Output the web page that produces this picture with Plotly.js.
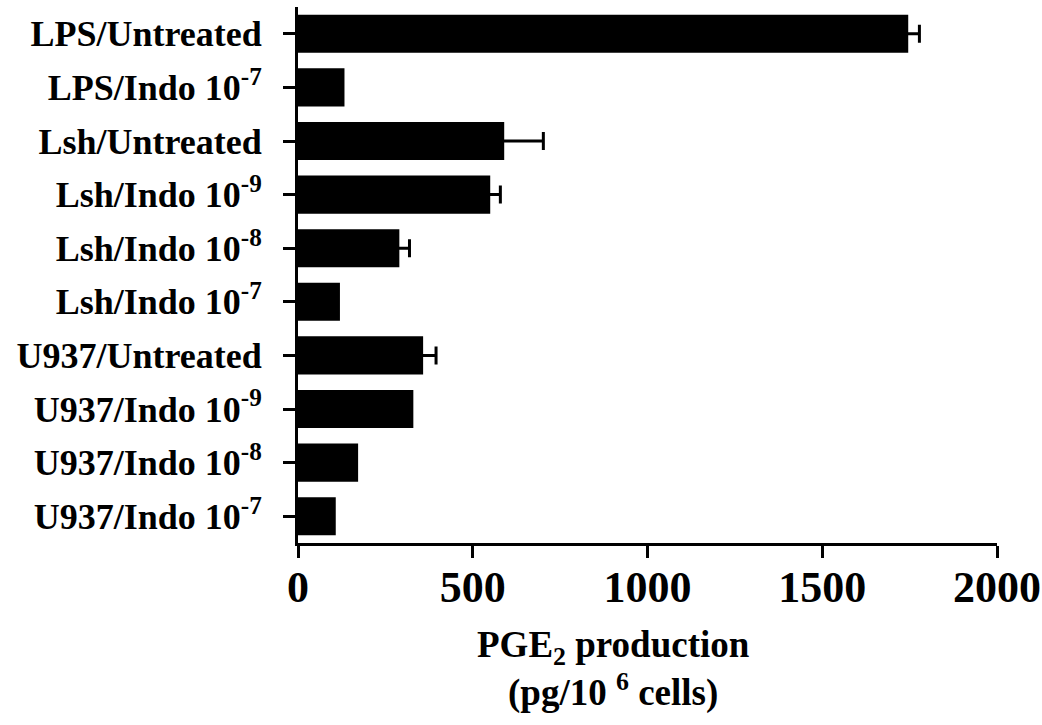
<!DOCTYPE html>
<html>
<head>
<meta charset="utf-8">
<script src="https://cdn.plot.ly/plotly-3.0.1.min.js"></script>
<style>
  html, body { margin: 0; padding: 0; background: #fff; }
  #chart { width: 1042px; height: 725px; }
</style>
</head>
<body>
<div id="chart"></div>
<script>
// Treatment groups, top to bottom
const groups = [
  'LPS/Untreated',
  'LPS/Indo 10<sup>-7</sup>',
  'Lsh/Untreated',
  'Lsh/Indo 10<sup>-9</sup>',
  'Lsh/Indo 10<sup>-8</sup>',
  'Lsh/Indo 10<sup>-7</sup>',
  'U937/Untreated',
  'U937/Indo 10<sup>-9</sup>',
  'U937/Indo 10<sup>-8</sup>',
  'U937/Indo 10<sup>-7</sup>'
];

// PGE2 production (pg/10^6 cells)
const pge2 = [1746, 133, 590, 550, 290, 120, 358, 330, 172, 108];

// Error (SD); null where no error bar is drawn
const pge2Err = [32, null, 112, 29, 29, null, 37, null, null, null];

const xTicks = [0, 500, 1000, 1500, 2000];

const serif = 'Liberation Serif, Times New Roman, serif';

const trace = {
  type: 'bar',
  orientation: 'h',
  x: pge2,
  y: groups,
  marker: { color: '#000', line: { width: 0 } },
  // symmetric bars: the lower half falls inside the black bar;
  // NaN entries are skipped entirely
  error_x: {
    type: 'data',
    symmetric: true,
    array: pge2Err.map(v => (v === null ? NaN : v)),
    color: '#000',
    thickness: 3,
    width: 9
  },
  hoverinfo: 'none'
};

const layout = {
  width: 1042,
  height: 725,
  margin: { l: 298, r: 45, t: 7, b: 182 },
  paper_bgcolor: '#fff',
  plot_bgcolor: '#fff',
  showlegend: false,
  bargap: 0.29,
  font: { family: serif, color: '#000' },
  xaxis: {
    range: [0, 2000],
    tickvals: xTicks,
    ticktext: xTicks.map(String),
    showgrid: false,
    zeroline: false,
    showline: true,
    linecolor: '#000',
    linewidth: 3,
    ticks: 'outside',
    ticklen: 12,
    tickwidth: 3,
    tickcolor: '#000',
    ticklabelstandoff: -9,
    tickfont: { family: serif, size: 44, weight: 700, color: '#000' }
  },
  yaxis: {
    type: 'category',
    range: [9.5, -0.5],
    showgrid: false,
    zeroline: false,
    showline: true,
    linecolor: '#000',
    linewidth: 3,
    ticks: 'outside',
    ticklen: 12,
    tickwidth: 3,
    tickcolor: '#000',
    ticklabelstandoff: 14,
    tickfont: { family: serif, size: 36, weight: 700, color: '#000' }
  },
  annotations: [{
    xref: 'paper', yref: 'paper',
    x: 0.452, y: 0,
    yshift: -79,
    xanchor: 'center', yanchor: 'top',
    showarrow: false,
    align: 'center',
    text: 'PGE<sub>2</sub> production<br>(pg/10 <sup>6</sup> cells)',
    font: { family: serif, size: 37, weight: 700, color: '#000' }
  }]
};

Plotly.newPlot('chart', [trace], layout, { staticPlot: true, displayModeBar: false });
</script>
</body>
</html>
